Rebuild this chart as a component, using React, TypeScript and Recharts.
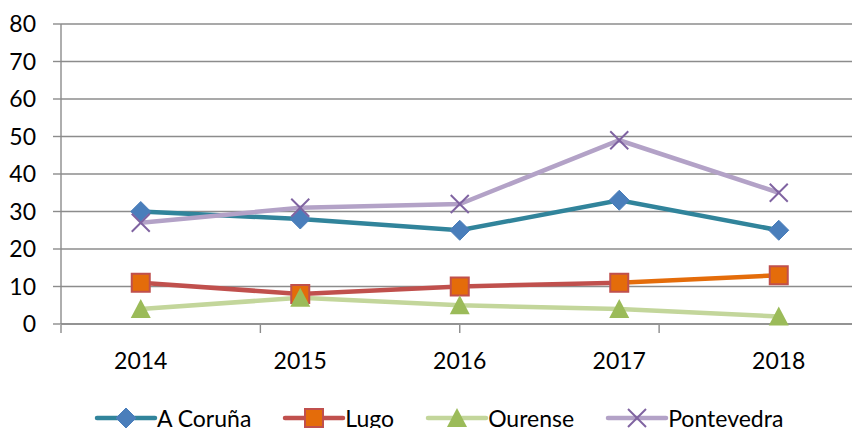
import { ComposedChart, Line, XAxis, YAxis, CartesianGrid } from 'recharts'

const years = ['2014', '2015', '2016', '2017', '2018']
const aCoruna = [30, 28, 25, 33, 25]
const lugo = [11, 8, 10, 11, 13]
const ourense = [4, 7, 5, 4, 2]
const pontevedra = [27, 31, 32, 49, 35]
const yTicks = [0, 10, 20, 30, 40, 50, 60, 70, 80]
const edgeTicks = [0, 1, 2, 3, 4, 5]

const data = years.map((year, i) => ({
  year,
  aCoruna: aCoruna[i],
  lugo: lugo[i],
  ourense: ourense[i],
  pontevedra: pontevedra[i],
}))

const FONT = 'Lato, "Open Sans", sans-serif'
const GRID = '#8c8c8c'

function Diamond({ cx, cy }: { cx: number; cy: number }) {
  const r = 10
  return <polygon points={`${cx},${cy - r} ${cx + r},${cy} ${cx},${cy + r} ${cx - r},${cy}`} fill="#4A7EBB" stroke="#4A7EBB" strokeWidth={1} />
}

function Square({ cx, cy }: { cx: number; cy: number }) {
  const r = 9
  return <rect x={cx - r} y={cy - r} width={r * 2} height={r * 2} fill="#E46C0A" stroke="#C0504D" strokeWidth={2} />
}

function Triangle({ cx, cy }: { cx: number; cy: number }) {
  const r = 10
  return <polygon points={`${cx},${cy - r} ${cx + r},${cy + r * 0.9} ${cx - r},${cy + r * 0.9}`} fill="#9BBB59" />
}

function Cross({ cx, cy }: { cx: number; cy: number }) {
  const r = 9
  return (
    <g stroke="#7F63A1" strokeWidth={2}>
      <line x1={cx - r} y1={cy - r} x2={cx + r} y2={cy + r} />
      <line x1={cx - r} y1={cy + r} x2={cx + r} y2={cy - r} />
    </g>
  )
}

const series = [
  { key: 'aCoruna', name: 'A Coruña', color: '#31849B', Marker: Diamond },
  { key: 'lugo', name: 'Lugo', color: '#C0504D', Marker: Square },
  { key: 'ourense', name: 'Ourense', color: '#C3D69B', Marker: Triangle },
  { key: 'pontevedra', name: 'Pontevedra', color: '#B3A2C7', Marker: Cross },
]

const noTick = () => <g />

function LegendRow() {
  return (
    <div style={{ position: 'absolute', left: 97, top: 406, display: 'flex', alignItems: 'center', gap: 34, fontFamily: FONT, fontSize: 23, lineHeight: '24px', whiteSpace: 'nowrap' }}>
      {series.map(s => (
        <div key={s.key} style={{ display: 'flex', alignItems: 'center' }}>
          <svg width={58} height={24} style={{ overflow: 'visible' }}>
            <line x1={0} y1={12} x2={58} y2={12} stroke={s.color} strokeWidth={4.5} strokeLinecap="round" />
            <s.Marker cx={29} cy={12} />
          </svg>
          <span style={{ marginLeft: 2, color: '#000' }}>{s.name}</span>
        </div>
      ))}
    </div>
  )
}

export default function App() {
  return (
    <div style={{ position: 'absolute', left: 0, top: 0, width: 852, height: 428, overflow: 'hidden', background: '#fff' }}>
      <svg width={0} height={0} style={{ position: 'absolute' }}>
        <defs>
          <linearGradient id="lugoStroke" x1="0" y1="0" x2="1" y2="0">
            <stop offset="0.75" stopColor="#C0504D" />
            <stop offset="0.75" stopColor="#E46C0A" />
          </linearGradient>
        </defs>
      </svg>
      <ComposedChart width={860} height={428} data={data} margin={{ top: 24, right: 1.5, bottom: 102, left: 0 }}>
        <CartesianGrid vertical={false} stroke={GRID} strokeWidth={1.4} />
        <XAxis xAxisId="edge" type="number" domain={[0, 5]} ticks={edgeTicks} allowDataOverflow height={1}
          axisLine={false} tickLine={{ stroke: GRID, strokeWidth: 1.4 }} tickSize={8} tick={noTick} interval={0} />
        <XAxis dataKey="year" scale="band" height={1} interval={0} tickLine={false} tickSize={8} tickMargin={21}
          axisLine={{ stroke: GRID, strokeWidth: 1.4 }}
          tick={{ fill: '#000', fontSize: 23, fontFamily: FONT }} />
        <YAxis width={61} domain={[0, 80]} ticks={yTicks} interval={0} tickSize={8} tickMargin={17}
          axisLine={{ stroke: GRID, strokeWidth: 1.4 }} tickLine={{ stroke: GRID, strokeWidth: 1.4 }}
          tick={{ fill: '#000', fontSize: 23, fontFamily: FONT }} />
        <Line dataKey="aCoruna" stroke="#31849B" strokeWidth={4.5} isAnimationActive={false}
          dot={(p: any) => <Diamond key={`a${p.index}`} cx={p.cx} cy={p.cy} />} activeDot={false} />
        <Line dataKey="lugo" stroke="url(#lugoStroke)" strokeWidth={4.5} isAnimationActive={false}
          dot={(p: any) => <Square key={`l${p.index}`} cx={p.cx} cy={p.cy} />} activeDot={false} />
        <Line dataKey="ourense" stroke="#C3D69B" strokeWidth={4.5} isAnimationActive={false}
          dot={(p: any) => <Triangle key={`o${p.index}`} cx={p.cx} cy={p.cy} />} activeDot={false} />
        <Line dataKey="pontevedra" stroke="#B3A2C7" strokeWidth={4.5} isAnimationActive={false}
          dot={(p: any) => <Cross key={`p${p.index}`} cx={p.cx} cy={p.cy} />} activeDot={false} />
      </ComposedChart>
      <LegendRow />
    </div>
  )
}
